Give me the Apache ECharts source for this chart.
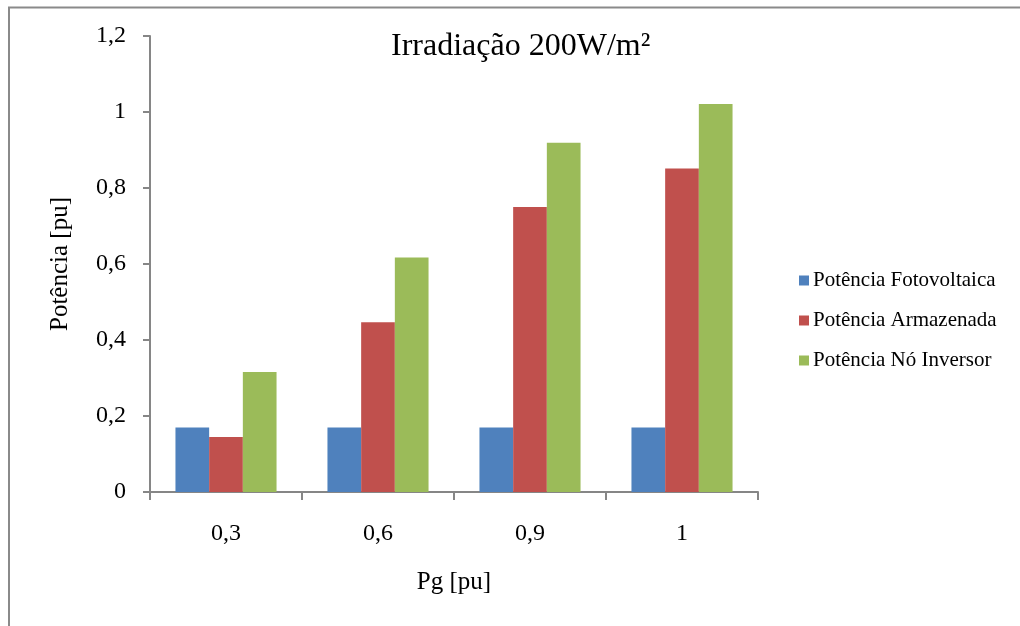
<!DOCTYPE html>
<html>
<head>
<meta charset="utf-8">
<script src="https://cdn.jsdelivr.net/npm/echarts@6/dist/echarts.min.js"></script>
<style>html,body{margin:0;padding:0;background:#fff;}#c{width:1020px;height:626px;}</style>
</head>
<body>
<div id="c"></div>
<script>
var categories = ['0,3', '0,6', '0,9', '1'];
var seriesNames = ['Potência Fotovoltaica', 'Potência Armazenada', 'Potência Nó Inversor'];
var fotovoltaica = [0.17, 0.17, 0.17, 0.17];
var armazenada = [0.145, 0.447, 0.75, 0.851];
var noInversor = [0.316, 0.617, 0.919, 1.021];
var yTickLabels = {0: '0', 0.2: '0,2', 0.4: '0,4', 0.6: '0,6', 0.8: '0,8', 1: '1', 1.2: '1,2'};
var titleText = 'Irradiação 200W/m²';
var xName = 'Pg [pu]';
var yName = 'Potência [pu]';

var font = '"Liberation Serif", "Times New Roman", serif';
var axisGray = '#868686';
var chart = echarts.init(document.getElementById('c'), null, {renderer: 'canvas'});
var mk = function (name, data, color) {
  return {
    name: name, type: 'bar', data: data,
    barGap: '0%', barCategoryGap: '33.5%',
    itemStyle: {color: color},
    animation: false
  };
};
chart.setOption({
  animation: false,
  backgroundColor: '#fff',
  title: {
    text: titleText,
    left: 386, top: 26,
    textStyle: {fontFamily: font, fontSize: 32, fontWeight: 'normal', color: '#000'}
  },
  legend: {
    orient: 'vertical',
    left: 799, top: 270, padding: 0,
    itemWidth: 10, itemHeight: 10, itemGap: 19,
    icon: 'rect',
    textStyle: {fontFamily: font, fontSize: 21, color: '#000', lineHeight: 20, padding: [0, 0, 0, -1]},
    data: seriesNames
  },
  grid: {left: 150, right: 262, top: 36, bottom: 134},
  xAxis: {
    type: 'category', data: categories,
    name: xName, nameLocation: 'middle', nameGap: 78,
    nameTextStyle: {fontFamily: font, fontSize: 25, color: '#000'},
    axisLine: {lineStyle: {color: axisGray, width: 2}},
    axisTick: {show: true, length: 8, lineStyle: {color: axisGray, width: 2}},
    axisLabel: {fontFamily: font, fontSize: 24, color: '#000', margin: 30}
  },
  yAxis: {
    type: 'value', min: 0, max: 1.2, interval: 0.2,
    name: yName, nameLocation: 'middle', nameGap: 77, nameRotate: 90,
    nameTextStyle: {fontFamily: font, fontSize: 25, color: '#000'},
    axisLine: {show: true, lineStyle: {color: axisGray, width: 2}},
    axisTick: {show: true, length: 7, lineStyle: {color: axisGray, width: 2}},
    splitLine: {show: false},
    axisLabel: {
      fontFamily: font, fontSize: 24, color: '#000', margin: 24,
      formatter: function (v) { var k = Math.round(v * 10) / 10; return yTickLabels[k] !== undefined ? yTickLabels[k] : String(v).replace('.', ','); }
    }
  },
  graphic: [{
    type: 'rect', silent: true,
    shape: {x: 9, y: 7.5, width: 1200, height: 1000},
    style: {fill: 'none', stroke: '#8a8a8a', lineWidth: 2}
  }],
  series: [
    mk(seriesNames[0], fotovoltaica, '#4F81BD'),
    mk(seriesNames[1], armazenada, '#C0504D'),
    mk(seriesNames[2], noInversor, '#9BBB59')
  ]
});
</script>
</body>
</html>
